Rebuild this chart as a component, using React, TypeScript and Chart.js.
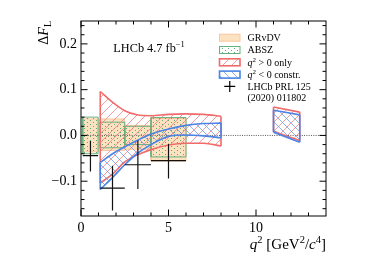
import React, { useEffect, useRef } from "react";
import { Chart, registerables } from "chart.js";

Chart.register(...registerables);

// ---------- axes ----------
const X_MIN = 0;
const X_MAX = 14;
const Y_MIN = -0.176;
const Y_MAX = 0.25;
const X_TICKS = [0, 5, 10];
const X_TICK_LABELS = ["0", "5", "10"];
const X_MINOR = [1, 2, 3, 4, 6, 7, 8, 9, 11, 12, 13];
const Y_TICKS = [-0.1, 0, 0.1, 0.2];
const Y_TICK_LABELS = ["\u22120.1", "0.0", "0.1", "0.2"];
const Y_MINOR = [-0.16, -0.14, -0.12, -0.08, -0.06, -0.04, -0.02, 0.02, 0.04, 0.06, 0.08, 0.12, 0.14, 0.16, 0.18, 0.22, 0.24];

// ---------- theory boxes (bins) ----------
const BIN_LO = [0.1, 1.1, 2.5, 4.0];
const BIN_HI = [0.98, 2.5, 4.0, 6.0];
const GRVDV_LO = [-0.036, -0.033, -0.030, -0.056];
const GRVDV_HI = [0.036, 0.036, 0.022, 0.037];
const ABSZ_LO = [-0.040, -0.027, -0.020, -0.047];
const ABSZ_HI = [0.040, 0.029, 0.020, 0.039];

// ---------- LHCb data ----------
const DATA_X = [0.54, 1.8, 3.25, 5.0];
const DATA_XLO = [0.1, 1.1, 2.5, 4.0];
const DATA_XHI = [0.98, 2.5, 4.0, 6.0];
const DATA_Y = [-0.044, -0.115, -0.064, -0.055];
const DATA_YLO = [-0.079, -0.164, -0.117, -0.094];
const DATA_YHI = [-0.012, -0.066, -0.011, -0.018];

// ---------- fit bands ----------
const BAND_X = [1.1, 1.85, 2.5, 3.2, 4.0, 5.0, 6.0, 7.0, 8.0];
const RED_HI = [0.096, 0.071, 0.054, 0.045, 0.043, 0.046, 0.047, 0.046, 0.042];
const RED_LO = [-0.104, -0.083, -0.058, -0.043, -0.031, -0.021, -0.017, -0.017, -0.023];
const BLUE_HI = [-0.059, -0.039, -0.025, -0.011, 0.003, 0.014, 0.022, 0.026, 0.027];
const BLUE_LO = [-0.118, -0.090, -0.064, -0.040, -0.020, -0.002, 0.001, -0.001, -0.005];
const HIGH_X = [11.0, 12.5];
const RED_HI2 = [0.062, 0.051];
const RED_LO2 = [0.009, -0.011];
const BLUE_HI2 = [0.055, 0.045];
const BLUE_LO2 = [0.007, -0.015];

// ---------- text ----------
const LUMI_TEXT = "LHCb 4.7 fb";
const LUMI_SUP = "\u22121";
const LEGEND_GRVDV = "GRvDV";
const LEGEND_ABSZ = "ABSZ";
const LEGEND_RED = " > 0 only";
const LEGEND_BLUE = " < 0 constr.";
const LEGEND_DATA1 = "LHCb PRL 125";
const LEGEND_DATA2 = "(2020) 011802";

const FONT = '"Liberation Serif", "Times New Roman", "DejaVu Serif", serif';

const RED_EDGE = "#f26b6b";
const RED_HATCH = "rgba(242,120,120,0.8)";
const BLUE_EDGE = "#4a84e6";
const BLUE_HATCH = "rgba(90,140,230,0.75)";
const GREEN_EDGE = "#66b07e";
const GREEN_DOT = "rgba(70,160,95,0.85)";
const ORANGE_FILL = "#fde2c2";
const ORANGE_EDGE = "#f8c8a0";

type Run = { t: string; s: number; i?: boolean; dy?: number };

function setFont(ctx: CanvasRenderingContext2D, r: Run) {
  ctx.font = `${r.i ? "italic " : ""}${r.s}px ${FONT}`;
}
function runsWidth(ctx: CanvasRenderingContext2D, runs: Run[]) {
  let w = 0;
  for (const r of runs) {
    setFont(ctx, r);
    w += ctx.measureText(r.t).width;
  }
  return w;
}
function drawRuns(ctx: CanvasRenderingContext2D, runs: Run[], x: number, y: number) {
  let cx = x;
  for (const r of runs) {
    setFont(ctx, r);
    ctx.fillText(r.t, cx, y + (r.dy || 0));
    cx += ctx.measureText(r.t).width;
  }
}

function hatch(color: string, dir: "/" | "\\", size: number) {
  const c = document.createElement("canvas");
  c.width = size;
  c.height = size;
  const g = c.getContext("2d")!;
  g.strokeStyle = color;
  g.lineWidth = 0.9;
  g.beginPath();
  for (const k of [-size, 0, size]) {
    if (dir === "/") {
      g.moveTo(k, size);
      g.lineTo(k + size, 0);
    } else {
      g.moveTo(k, 0);
      g.lineTo(k + size, size);
    }
  }
  g.stroke();
  return g.createPattern(c, "repeat")!;
}
function dots(color: string) {
  const c = document.createElement("canvas");
  c.width = 6;
  c.height = 4;
  const g = c.getContext("2d")!;
  g.fillStyle = color;
  g.fillRect(0, 0, 1, 1);
  g.fillRect(3, 2, 1, 1);
  return g.createPattern(c, "repeat")!;
}

const pts = (xs: number[], ys: number[]) => xs.map((x, i) => ({ x, y: ys[i] }));

function band(xs: number[], hi: number[], lo: number[], edge: string, pat: CanvasPattern, order: number) {
  const n = xs.length;
  return [
    { data: pts(xs, hi), borderColor: edge, borderWidth: 1.6, backgroundColor: pat, fill: "+1", cubicInterpolationMode: "monotone", order },
    { data: pts(xs, lo), borderColor: edge, borderWidth: 1.6, fill: false, cubicInterpolationMode: "monotone", order },
    {
      data: [
        { x: xs[0], y: hi[0] },
        { x: xs[0], y: lo[0] },
        { x: xs[0], y: null },
        { x: xs[n - 1], y: hi[n - 1] },
        { x: xs[n - 1], y: lo[n - 1] },
      ],
      borderColor: edge,
      borderWidth: 1.6,
      fill: false,
      order,
    },
  ];
}

function box(x0: number, x1: number, y0: number, y1: number, bg: any, edge: string, order: number) {
  return {
    data: [
      { x: x0, y: y0 },
      { x: x1, y: y0 },
      { x: x1, y: y1 },
      { x: x0, y: y1 },
      { x: x0, y: y0 },
    ],
    fill: "shape",
    backgroundColor: bg,
    borderColor: edge,
    borderWidth: 1,
    tension: 0,
    order,
  };
}

function makeDecor(P: { red: CanvasPattern; blue: CanvasPattern; green: CanvasPattern }) {
  return {
    id: "decor",
    afterDraw(chart: any) {
      const { ctx, chartArea: a, scales } = chart;
      const xs = scales.x;
      const ys = scales.y;
      ctx.save();
      // frame
      ctx.strokeStyle = "#000";
      ctx.lineWidth = 1;
      ctx.strokeRect(a.left, a.top, a.right - a.left, a.bottom - a.top);
      ctx.beginPath();
      const xt = (v: number, len: number) => {
        const p = xs.getPixelForValue(v);
        ctx.moveTo(p, a.bottom);
        ctx.lineTo(p, a.bottom - len);
        ctx.moveTo(p, a.top);
        ctx.lineTo(p, a.top + len);
      };
      const yt = (v: number, len: number) => {
        const p = ys.getPixelForValue(v);
        ctx.moveTo(a.left, p);
        ctx.lineTo(a.left + len, p);
        ctx.moveTo(a.right, p);
        ctx.lineTo(a.right - len, p);
      };
      X_TICKS.forEach((v) => xt(v, 6.5));
      X_MINOR.forEach((v) => xt(v, 3.5));
      Y_TICKS.forEach((v) => yt(v, 6.5));
      Y_MINOR.forEach((v) => yt(v, 3.5));
      ctx.stroke();

      ctx.fillStyle = "#000";
      ctx.textBaseline = "alphabetic";
      // x title
      const xRuns: Run[] = [
        { t: "q", s: 15, i: true },
        { t: "2", s: 10.5, dy: -6 },
        { t: " [GeV", s: 15 },
        { t: "2", s: 10.5, dy: -6 },
        { t: "/", s: 15 },
        { t: "c", s: 15, i: true },
        { t: "4", s: 10.5, dy: -6 },
        { t: "]", s: 15 },
      ];
      const xw = runsWidth(ctx, xRuns);
      drawRuns(ctx, xRuns, a.right - xw, 248.5);

      // y title (rotated)
      const yRuns: Run[] = [
        { t: "\u0394", s: 14 },
        { t: "F", s: 14, i: true },
        { t: "L", s: 10, dy: 3 },
      ];
      const yw = runsWidth(ctx, yRuns);
      ctx.save();
      ctx.translate(48, a.top);
      ctx.rotate(-Math.PI / 2);
      drawRuns(ctx, yRuns, -yw, 0);
      ctx.restore();

      // lumi label
      drawRuns(ctx, [{ t: LUMI_TEXT, s: 12.3 }, { t: LUMI_SUP, s: 8.5, dy: -5 }], 113.3, 52);

      // legend
      const sx = 219.5;
      const sw = 20.5;
      const sh = 7;
      const tx = 247.5;
      const row = [37.7, 50.0, 62.3, 74.6, 86.4, 97.6];
      const sw2 = (cy: number, fillStyle: any, edge: string, lw: number) => {
        ctx.fillStyle = fillStyle;
        ctx.fillRect(sx, cy - sh / 2, sw, sh);
        ctx.strokeStyle = edge;
        ctx.lineWidth = lw;
        ctx.strokeRect(sx, cy - sh / 2, sw, sh);
      };
      sw2(row[0], ORANGE_FILL, ORANGE_EDGE, 1);
      sw2(row[1], P.green, GREEN_EDGE, 1);
      sw2(row[2], P.red, RED_EDGE, 1.6);
      sw2(row[3], P.blue, BLUE_EDGE, 1.6);
      ctx.strokeStyle = "#000";
      ctx.lineWidth = 1.2;
      ctx.beginPath();
      ctx.moveTo(sx + sw / 2 - 5.5, row[4]);
      ctx.lineTo(sx + sw / 2 + 5.5, row[4]);
      ctx.moveTo(sx + sw / 2, row[4] - 5.5);
      ctx.lineTo(sx + sw / 2, row[4] + 5.5);
      ctx.stroke();
      ctx.fillStyle = "#000";
      const b = 3.4;
      drawRuns(ctx, [{ t: LEGEND_GRVDV, s: 10 }], tx, row[0] + b);
      drawRuns(ctx, [{ t: LEGEND_ABSZ, s: 10 }], tx, row[1] + b);
      drawRuns(ctx, [{ t: "q", s: 10, i: true }, { t: "2", s: 7, dy: -4 }, { t: LEGEND_RED, s: 10 }], tx, row[2] + b);
      drawRuns(ctx, [{ t: "q", s: 10, i: true }, { t: "2", s: 7, dy: -4 }, { t: LEGEND_BLUE, s: 10 }], tx, row[3] + b);
      drawRuns(ctx, [{ t: LEGEND_DATA1, s: 10 }], tx, row[4] + b);
      drawRuns(ctx, [{ t: LEGEND_DATA2, s: 10 }], tx, row[5] + b);
      ctx.restore();
    },
  };
}

export default function App() {
  const ref = useRef<HTMLCanvasElement>(null);
  useEffect(() => {
    const canvas = ref.current!;
    const pats = {
      red: hatch(RED_HATCH, "/", 9),
      blue: hatch(BLUE_HATCH, "\\", 8),
      green: dots(GREEN_DOT),
    };

    const datasets: any[] = [];
    // crosses (top)
    const cross: any[] = [];
    DATA_X.forEach((x, i) => {
      cross.push({ x: DATA_XLO[i], y: DATA_Y[i] }, { x: DATA_XHI[i], y: DATA_Y[i] }, { x, y: null });
      cross.push({ x, y: DATA_YLO[i] }, { x, y: DATA_YHI[i] }, { x, y: null });
    });
    datasets.push({ data: cross, borderColor: "#111", borderWidth: 1.2, fill: false, order: 1 });
    datasets.push(...band(BAND_X, BLUE_HI, BLUE_LO, BLUE_EDGE, pats.blue, 40));
    datasets.push(...band(HIGH_X, BLUE_HI2, BLUE_LO2, BLUE_EDGE, pats.blue, 40));
    datasets.push(...band(BAND_X, RED_HI, RED_LO, RED_EDGE, pats.red, 50));
    datasets.push(...band(HIGH_X, RED_HI2, RED_LO2, RED_EDGE, pats.red, 50));
    datasets.push({
      data: [{ x: X_MIN, y: 0 }, { x: X_MAX, y: 0 }],
      borderColor: "#555",
      borderWidth: 1,
      borderDash: [1, 1.3],
      fill: false,
      order: 60,
    });
    BIN_LO.forEach((x0, i) => datasets.push(box(x0, BIN_HI[i], ABSZ_LO[i], ABSZ_HI[i], pats.green, GREEN_EDGE, 70)));
    BIN_LO.forEach((x0, i) => datasets.push(box(x0, BIN_HI[i], GRVDV_LO[i], GRVDV_HI[i], ORANGE_FILL, ORANGE_EDGE, 80)));

    const tickFont = { family: FONT, size: 14 };
    const chart = new Chart(canvas, {
      type: "line",
      data: { datasets },
      options: {
        animation: false,
        responsive: true,
        maintainAspectRatio: false,
        elements: { point: { radius: 0, hoverRadius: 0 }, line: { tension: 0 } },
        layout: { padding: { top: 21, right: 48, left: 0, bottom: 0 } },
        plugins: { legend: { display: false }, tooltip: { enabled: false } },
        events: [],
        scales: {
          x: {
            type: "linear",
            min: X_MIN,
            max: X_MAX,
            grid: { display: false, drawTicks: false },
            border: { display: false },
            afterBuildTicks: (s: any) => {
              s.ticks = X_TICKS.map((v) => ({ value: v }));
            },
            afterFit: (s: any) => {
              s.height = 48;
            },
            ticks: {
              autoSkip: false,
              maxRotation: 0,
              padding: 4,
              color: "#000",
              font: tickFont,
              callback: (v: any) => X_TICK_LABELS[X_TICKS.indexOf(Number(v))] ?? "",
            },
          },
          y: {
            type: "linear",
            min: Y_MIN,
            max: Y_MAX,
            grid: { display: false, drawTicks: false },
            border: { display: false },
            afterBuildTicks: (s: any) => {
              s.ticks = Y_TICKS.map((v) => ({ value: v }));
            },
            afterFit: (s: any) => {
              s.width = 81;
            },
            ticks: {
              autoSkip: false,
              padding: 4,
              color: "#000",
              font: tickFont,
              callback: (v: any) => {
                const i = Y_TICKS.findIndex((t) => Math.abs(t - Number(v)) < 1e-9);
                return i >= 0 ? Y_TICK_LABELS[i] : "";
              },
            },
          },
        },
      } as any,
      plugins: [makeDecor(pats) as any],
    });
    return () => chart.destroy();
  }, []);
  return (
    <div style={{ position: "fixed", left: 0, top: 0, width: 374, height: 264, background: "#fff" }}>
      <canvas ref={ref} />
    </div>
  );
}
